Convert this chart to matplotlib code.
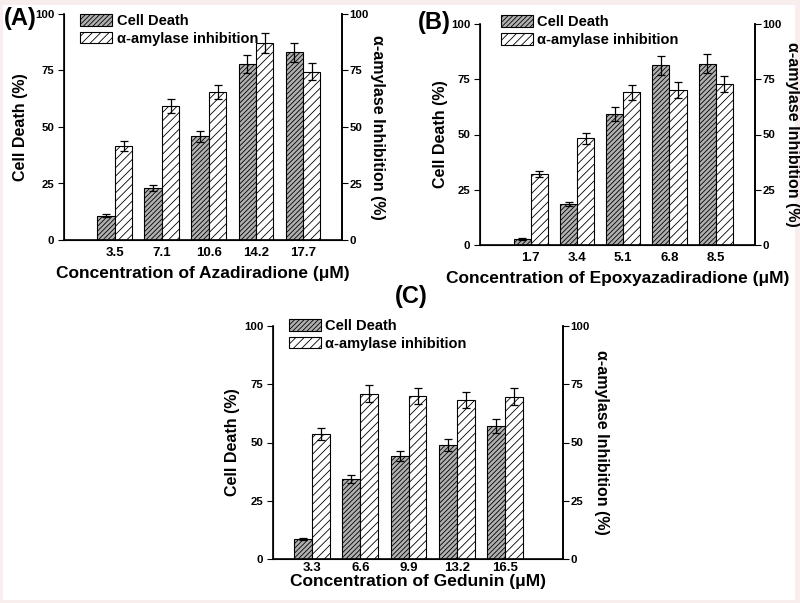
import matplotlib
matplotlib.use("Agg")
import matplotlib.pyplot as plt
import numpy as np
from matplotlib.patches import Rectangle

plt.rcParams["font.family"] = ["Liberation Sans", "DejaVu Sans"]
plt.rcParams["font.weight"] = "bold"
plt.rcParams["hatch.linewidth"] = 0.6

# (A) Azadiradione
conc_a = ["3.5", "7.1", "10.6", "14.2", "17.7"]
death_a = [10.7, 23.0, 45.9, 77.9, 83.0]
death_a_err = [0.6, 1.2, 2.4, 4.0, 4.1]
amyl_a = [41.8, 59.4, 65.5, 87.1, 74.4]
amyl_a_err = [2.2, 3.0, 3.3, 4.4, 3.7]

# (B) Epoxyazadiradione
conc_b = ["1.7", "3.4", "5.1", "6.8", "8.5"]
death_b = [2.7, 18.6, 59.3, 81.4, 82.0]
death_b_err = [0.3, 1.0, 3.0, 4.3, 4.2]
amyl_b = [32.1, 48.3, 69.1, 70.1, 72.7]
amyl_b_err = [1.5, 2.6, 3.4, 3.5, 3.6]

# (C) Gedunin
conc_c = ["3.3", "6.6", "9.9", "13.2", "16.5"]
death_c = [8.6, 34.3, 44.3, 48.9, 57.1]
death_c_err = [0.3, 1.7, 2.2, 2.6, 2.9]
amyl_c = [53.6, 70.9, 70.0, 68.1, 69.7]
amyl_c_err = [2.7, 3.6, 3.6, 3.4, 3.5]

W, H = 800, 603
fig = plt.figure(figsize=(8, 6.03), dpi=100, facecolor="#f8eeee")
fig.patches.append(Rectangle((3 / W, 3 / H), 1 - 8 / W, 1 - 8 / H,
                             transform=fig.transFigure, facecolor="white",
                             edgecolor="none", zorder=-1))


def px_axes(left, top, right, bottom):
    return fig.add_axes([left / W, 1 - bottom / H, (right - left) / W, (bottom - top) / H])


def panel(ax, conc, death, death_err, amyl, amyl_err, xlabel, xlim, leg_anchor,
          pads=(5, 4, 2), xpad=5):
    # pads: left ylabel, xlabel, right ylabel
    x = np.arange(len(conc))
    w = 0.37
    ax.bar(x - w / 2, death, w, yerr=death_err, facecolor="#b0b0b0", edgecolor="black",
           linewidth=0.8, hatch="///////", capsize=3,
           error_kw=dict(elinewidth=0.9, capthick=0.9), label="Cell Death")
    ax.bar(x + w / 2, amyl, w, yerr=amyl_err, facecolor="white", edgecolor="black",
           linewidth=0.8, hatch="////", capsize=3,
           error_kw=dict(elinewidth=0.9, capthick=0.9), label="α-amylase inhibition")
    ax.set_xlim(*xlim)
    ax.set_ylim(0, 100)
    ax.set_yticks([0, 25, 50, 75, 100])
    ax.set_xticks(x)
    ax.set_xticklabels(conc)
    ax.tick_params(axis="x", length=0, labelsize=9.5, pad=xpad)
    ax.tick_params(axis="y", direction="out", length=4, labelsize=8.2, pad=3)
    ax.spines["top"].set_visible(False)
    for s in ["left", "right", "bottom"]:
        ax.spines[s].set_linewidth(1.2)
    ax.set_ylabel("Cell Death (%)", fontsize=11.5, fontweight="bold", labelpad=pads[0])
    ax.set_xlabel(xlabel, fontsize=12.5, fontweight="bold", labelpad=pads[1])
    ax2 = ax.twinx()
    ax2.set_ylim(0, 100)
    ax2.set_yticks([0, 25, 50, 75, 100])
    ax2.tick_params(axis="y", direction="out", length=4, labelsize=8.2, pad=1.5)
    ax2.spines["top"].set_visible(False)
    ax2.spines["right"].set_linewidth(1.2)
    ax2.set_ylabel("α-amylase Inhibition (%)", fontsize=11.5, fontweight="bold",
                   rotation=270, va="bottom", labelpad=pads[2])
    ax.legend(loc="upper left", bbox_to_anchor=leg_anchor, frameon=False, fontsize=10.5,
              handlelength=2.2, handleheight=0.85, handletextpad=0.3,
              labelspacing=0.25, borderaxespad=0, borderpad=0)


ax_a = px_axes(64, 14, 342, 240)
panel(ax_a, conc_a, death_a, death_a_err, amyl_a, amyl_a_err,
      "Concentration of Azadiradione (μM)", (-1.08, 4.83), (0.058, 1.0),
      pads=(5, 5, 1))
ax_b = px_axes(480, 24, 755, 245)
panel(ax_b, conc_b, death_b, death_b_err, amyl_b, amyl_b_err,
      "Concentration of Epoxyazadiradione (μM)", (-1.1, 4.85), (0.076, 1.04),
      pads=(2, 5, 2))
ax_c = px_axes(273, 326, 563, 559)
panel(ax_c, conc_c, death_c, death_c_err, amyl_c, amyl_c_err,
      "Concentration of Gedunin (μM)", (-0.81, 5.2), (0.055, 1.03),
      pads=(3, 0, 3), xpad=2)

fig.text(4 / W, 1 - 18 / H, "(A)", fontsize=17, fontweight="bold", va="center", ha="left")
fig.text(418 / W, 1 - 22 / H, "(B)", fontsize=17, fontweight="bold", va="center", ha="left")
fig.text(411 / W, 1 - 296 / H, "(C)", fontsize=17, fontweight="bold", va="center", ha="center")

fig.savefig("out.png", dpi=100, facecolor=fig.get_facecolor())
